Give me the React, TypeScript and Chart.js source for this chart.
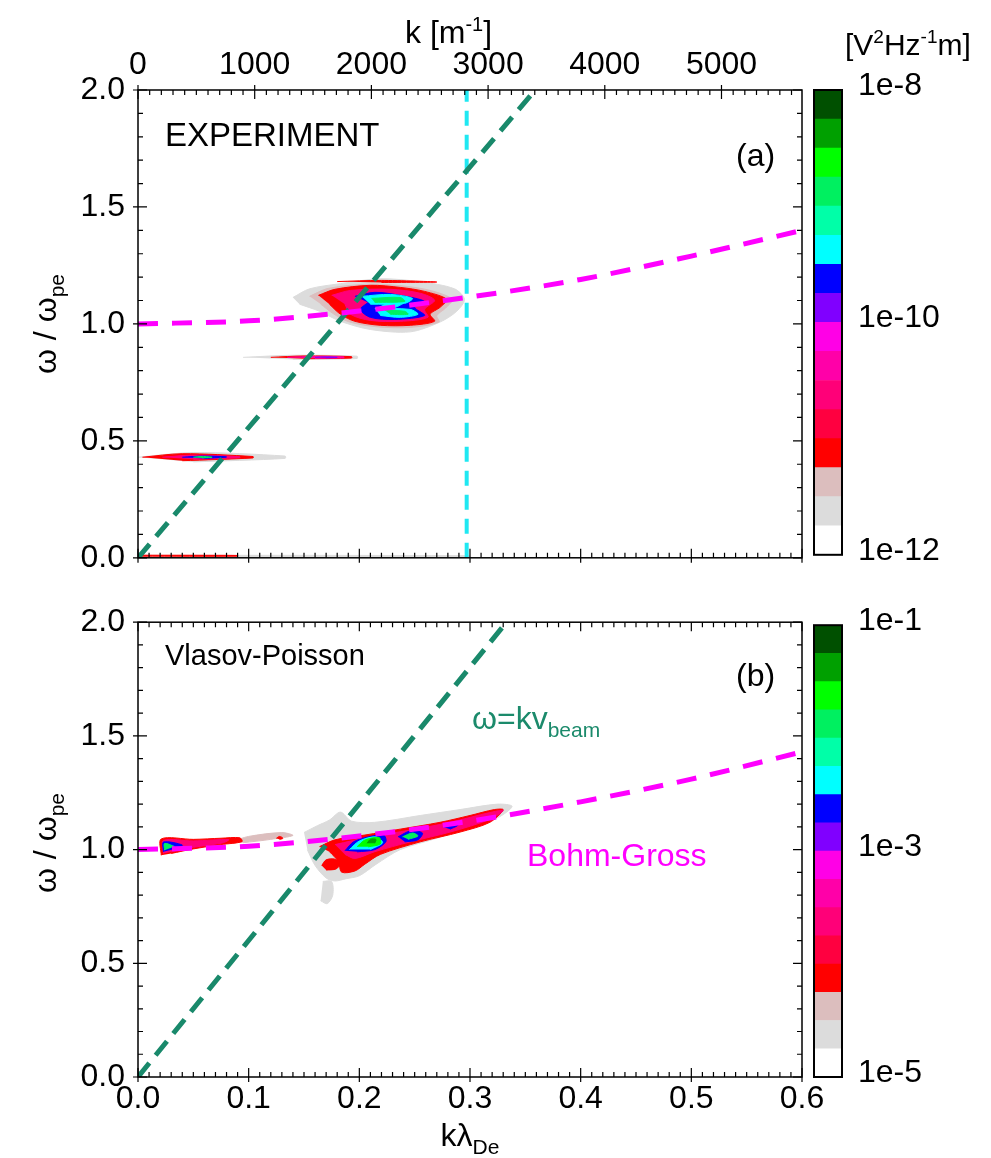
import React, { useEffect, useRef } from "react";
import { Chart, registerables } from "chart.js";

Chart.register(...registerables);

const FONT = "'Liberation Sans', Arial, Helvetica, sans-serif";

// ---------- axes ----------
const kLambdaTicks = [0, 0.1, 0.2, 0.3, 0.4, 0.5, 0.6];
const omegaTicks = [0, 0.5, 1.0, 1.5, 2.0];
const kTicks = [0, 1000, 2000, 3000, 4000, 5000];
const kLambdaMax = 0.6;
const omegaMax = 2.0;
const lambdaDe = 1.0545e-4; // m, links k [1/m] to k*lambda_De

// ---------- dashed guide lines ----------
const bohmGrossX = [0, 0.1, 0.2, 0.3, 0.4, 0.5, 0.6];
const bohmGrossExpY = [1.0, 1.013, 1.055, 1.115, 1.19, 1.29, 1.4];
const bohmGrossSimY = [1.0, 1.015, 1.06, 1.125, 1.21, 1.31, 1.43];
const beamExpX = [0, 0.359];
const beamExpY = [0, 2.0];
const beamSimX = [0, 0.333];
const beamSimY = [0, 2.0];
const cutoffExpX = [0.297, 0.297];
const cutoffExpY = [0, 2.0];

// ---------- colour levels (low -> high) ----------
const levelColors = [
  "#FFFFFF", "#DCDCDC", "#DCBEBE", "#FF0000", "#FF0040", "#FF0078", "#FF00A8", "#FF00E6",
  "#8000FF", "#0000FF", "#00FFFF", "#00FFA8", "#00F060", "#00FF00", "#00A000", "#005000",
];
const cbExpEdges = [-12, -11.75, -11.5, -11.25, -11, -10.75, -10.5, -10.25, -10, -9.75, -9.5, -9.25, -9, -8.75, -8.5, -8.25, -8];
const cbExpTicks = [-12, -10, -8];
const cbSimEdges = [-5, -4.75, -4.5, -4.25, -4, -3.75, -3.5, -3.25, -3, -2.75, -2.5, -2.25, -2, -1.75, -1.5, -1.25, -1];
const cbSimTicks = [-5, -3, -1];

type Pt = [number, number];

// ---------- (a) EXPERIMENT spectral contours [kλ, ω/ωpe] ----------
const expMainGrey: Pt[] = [[0.14, 1.113], [0.155, 1.15], [0.183, 1.172], [0.219, 1.193], [0.255, 1.18], [0.286, 1.15], [0.295, 1.105], [0.288, 1.054], [0.273, 1.008], [0.246, 0.966], [0.21, 0.976], [0.183, 1.011], [0.164, 1.054], [0.146, 1.084]];
const expMainRose: Pt[] = [[0.155, 1.118], [0.172, 1.152], [0.21, 1.17], [0.24, 1.162], [0.265, 1.142], [0.284, 1.105], [0.278, 1.068], [0.27, 1.035], [0.272, 1.008], [0.246, 0.985], [0.215, 0.988], [0.19, 1.01], [0.176, 1.045], [0.165, 1.085]];
const expMainRed: Pt[] = [[0.163, 1.122], [0.178, 1.148], [0.21, 1.165], [0.237, 1.156], [0.259, 1.139], [0.279, 1.105], [0.273, 1.071], [0.264, 1.041], [0.268, 1.011], [0.246, 0.994], [0.219, 0.994], [0.196, 1.011], [0.183, 1.041], [0.173, 1.084]];
const expTopStreak: Pt[] = [[0.18, 1.181], [0.22, 1.186], [0.27, 1.179], [0.22, 1.177]];
const expMainPink: Pt[] = [[0.175, 1.122], [0.192, 1.143], [0.228, 1.148], [0.255, 1.131], [0.268, 1.101], [0.259, 1.062], [0.262, 1.028], [0.237, 1.011], [0.21, 1.015], [0.192, 1.041], [0.187, 1.084]];
const expMainBlue: Pt[] = [[0.196, 1.118], [0.214, 1.135], [0.237, 1.122], [0.259, 1.096], [0.25, 1.071], [0.259, 1.036], [0.232, 1.019], [0.21, 1.028], [0.201, 1.062], [0.208, 1.092]];
const expCyanUpper: Pt[] = [[0.202, 1.118], [0.228, 1.126], [0.248, 1.109], [0.241, 1.088], [0.21, 1.084]];
const expCyanLower: Pt[] = [[0.214, 1.066], [0.246, 1.062], [0.253, 1.041], [0.237, 1.028], [0.219, 1.036]];
const expCyanLink: Pt[] = [[0.225, 1.09], [0.24, 1.09], [0.228, 1.064], [0.215, 1.066]];
const expGreenUpper: Pt[] = [[0.211, 1.109], [0.237, 1.113], [0.241, 1.096], [0.214, 1.092]];
const expGreenLower: Pt[] = [[0.223, 1.058], [0.241, 1.054], [0.244, 1.041], [0.228, 1.041]];
const exp085Grey: Pt[] = [[0.095, 0.857], [0.14, 0.866], [0.198, 0.862], [0.198, 0.852], [0.14, 0.848]];
const exp085Red: Pt[] = [[0.12, 0.857], [0.15, 0.863], [0.193, 0.86], [0.193, 0.854], [0.15, 0.851]];
const exp085Pink: Pt[] = [[0.135, 0.857], [0.16, 0.861], [0.186, 0.859], [0.186, 0.855], [0.16, 0.853]];
const exp085Violet: Pt[] = [[0.16, 0.857], [0.17, 0.859], [0.18, 0.857], [0.17, 0.855]];
const exp043Grey: Pt[] = [[0.0, 0.43], [0.05, 0.45], [0.133, 0.435], [0.133, 0.425], [0.05, 0.41]];
const exp043Red: Pt[] = [[0.004, 0.43], [0.04, 0.445], [0.104, 0.433], [0.104, 0.427], [0.04, 0.415]];
const exp043Pink: Pt[] = [[0.022, 0.43], [0.05, 0.439], [0.092, 0.432], [0.092, 0.428], [0.05, 0.421]];
const exp043Blue: Pt[] = [[0.04, 0.43], [0.06, 0.435], [0.08, 0.431], [0.06, 0.425]];
const exp043Green: Pt[] = [[0.05, 0.43], [0.058, 0.433], [0.067, 0.43], [0.058, 0.427]];
const exp000Grey: Pt[] = [[0.0, 0.011], [0.3, 0.009], [0.3, 0.005], [0.0, 0.005]];
const exp000Red: Pt[] = [[0.003, 0.011], [0.09, 0.01], [0.09, 0.007], [0.003, 0.007]];

// ---------- (b) Vlasov-Poisson spectral contours ----------
const simLeftRed: Pt[] = [[0.021, 0.975], [0.021, 1.047], [0.05, 1.045], [0.075, 1.05], [0.092, 1.052], [0.094, 1.035], [0.075, 1.022], [0.05, 1.003], [0.03, 0.983]];
const simLeftPink: Pt[] = [[0.023, 0.983], [0.023, 1.04], [0.05, 1.038], [0.082, 1.044], [0.077, 1.03], [0.05, 1.01], [0.03, 0.99]];
const simLeftBlue: Pt[] = [[0.023, 0.99], [0.023, 1.033], [0.04, 1.02], [0.035, 1.005]];
const simLeftGreen: Pt[] = [[0.024, 0.997], [0.024, 1.027], [0.033, 1.014]];
const simMidGrey: Pt[] = [[0.085, 1.035], [0.1, 1.058], [0.13, 1.075], [0.14, 1.062], [0.12, 1.045], [0.095, 1.03]];
const simMidRed: Pt[] = [[0.125, 1.05], [0.128, 1.058], [0.131, 1.05], [0.128, 1.044]];
const simMainGrey: Pt[] = [[0.15, 1.075], [0.162, 1.105], [0.173, 1.13], [0.183, 1.165], [0.193, 1.125], [0.214, 1.12], [0.255, 1.15], [0.291, 1.176], [0.325, 1.2], [0.338, 1.19], [0.325, 1.14], [0.3, 1.1], [0.27, 1.05], [0.237, 1.0], [0.215, 0.935], [0.2, 0.885], [0.188, 0.872], [0.178, 0.862], [0.17, 0.875], [0.16, 0.93], [0.153, 1.0]];
const simMainRed: Pt[] = [[0.164, 1.013], [0.178, 1.043], [0.205, 1.064], [0.237, 1.09], [0.273, 1.12], [0.3, 1.15], [0.322, 1.176], [0.33, 1.175], [0.318, 1.12], [0.291, 1.077], [0.255, 1.034], [0.219, 0.979], [0.205, 0.936], [0.196, 0.906], [0.184, 0.901], [0.181, 0.948], [0.173, 0.991]];
const simLowRed: Pt[] = [[0.166, 0.93], [0.17, 0.955], [0.178, 0.958], [0.183, 0.94], [0.179, 0.915], [0.17, 0.91]];
const simLowGrey: Pt[] = [[0.165, 0.775], [0.171, 0.762], [0.176, 0.8], [0.175, 0.86], [0.167, 0.86]];
const simMainPink: Pt[] = [[0.178, 1.022], [0.21, 1.056], [0.246, 1.086], [0.282, 1.12], [0.318, 1.163], [0.33, 1.172], [0.318, 1.133], [0.282, 1.077], [0.246, 1.034], [0.214, 0.991], [0.196, 0.961], [0.187, 0.979]];
const simBlue1: Pt[] = [[0.187, 0.995], [0.195, 1.035], [0.21, 1.058], [0.222, 1.064], [0.224, 1.035], [0.214, 1.0], [0.198, 0.99]];
const simCyan1: Pt[] = [[0.191, 1.0], [0.2, 1.038], [0.215, 1.056], [0.221, 1.03], [0.21, 1.0]];
const simGreen1: Pt[] = [[0.198, 1.013], [0.205, 1.042], [0.218, 1.053], [0.219, 1.025], [0.208, 1.012]];
const simDark1: Pt[] = [[0.207, 1.028], [0.21, 1.045], [0.215, 1.045], [0.214, 1.028]];
const simBlue2: Pt[] = [[0.235, 1.056], [0.246, 1.082], [0.257, 1.073], [0.253, 1.043], [0.241, 1.034]];
const simGreen2: Pt[] = [[0.239, 1.056], [0.248, 1.073], [0.253, 1.06], [0.244, 1.045]];
const simBlue3: Pt[] = [[0.276, 1.099], [0.284, 1.116], [0.289, 1.107], [0.282, 1.09]];

interface Contour { level: number; pts: Pt[] }

const expContours: Contour[] = [
  { level: 1, pts: expMainGrey }, { level: 2, pts: expMainRose }, { level: 3, pts: expMainRed },
  { level: 3, pts: expTopStreak }, { level: 5, pts: expMainPink }, { level: 9, pts: expMainBlue },
  { level: 10, pts: expCyanUpper }, { level: 10, pts: expCyanLower }, { level: 10, pts: expCyanLink },
  { level: 12, pts: expGreenUpper }, { level: 12, pts: expGreenLower }, { level: 1, pts: exp085Grey },
  { level: 3, pts: exp085Red }, { level: 6, pts: exp085Pink }, { level: 8, pts: exp085Violet },
  { level: 1, pts: exp043Grey }, { level: 3, pts: exp043Red }, { level: 5, pts: exp043Pink },
  { level: 9, pts: exp043Blue }, { level: 12, pts: exp043Green }, { level: 1, pts: exp000Grey },
  { level: 3, pts: exp000Red },
];

const simContours: Contour[] = [
  { level: 3, pts: simLeftRed }, { level: 5, pts: simLeftPink }, { level: 9, pts: simLeftBlue },
  { level: 12, pts: simLeftGreen }, { level: 2, pts: simMidGrey }, { level: 3, pts: simMidRed },
  { level: 1, pts: simMainGrey }, { level: 3, pts: simMainRed }, { level: 3, pts: simLowRed },
  { level: 1, pts: simLowGrey }, { level: 5, pts: simMainPink }, { level: 9, pts: simBlue1 },
  { level: 10, pts: simCyan1 }, { level: 13, pts: simGreen1 }, { level: 14, pts: simDark1 },
  { level: 9, pts: simBlue2 }, { level: 12, pts: simGreen2 }, { level: 9, pts: simBlue3 },
];

const toXY = (xs: number[], ys: number[]) => xs.map((x, i) => ({ x, y: ys[i] }));

function framePlugin(topKind: "k" | "kl") {
  return {
    id: "frameTicks",
    afterDatasetsDraw(chart: any) {
      const { ctx, chartArea: a, scales } = chart;
      const sx = scales.x, sy = scales.y, sk = scales.x2;
      ctx.save();
      ctx.strokeStyle = "#000";
      ctx.lineWidth = 1.2;
      ctx.beginPath();
      const MAJ = 9, MIN = 5, OUT = 5;
      for (let i = 0; i <= 60; i++) {
        const px = sx.getPixelForValue(i / 100);
        const major = i % 10 === 0;
        const len = major ? MAJ : MIN;
        ctx.moveTo(px, a.bottom + (major ? OUT : 0));
        ctx.lineTo(px, a.bottom - len);
        if (topKind === "kl") {
          ctx.moveTo(px, a.top);
          ctx.lineTo(px, a.top + len);
        }
      }
      if (topKind === "k" && sk) {
        for (let i = 0; i * 100 <= sk.max; i++) {
          const px = sk.getPixelForValue(i * 100);
          const major = i % 10 === 0;
          const len = major ? MAJ : MIN;
          ctx.moveTo(px, a.top - (major ? OUT : 0));
          ctx.lineTo(px, a.top + len);
        }
      }
      for (let i = 0; i <= 20; i++) {
        const py = sy.getPixelForValue(i / 10);
        const major = i % 5 === 0;
        const len = major ? MAJ : MIN;
        ctx.moveTo(a.left - (major ? OUT : 0), py);
        ctx.lineTo(a.left + len, py);
        ctx.moveTo(a.right, py);
        ctx.lineTo(a.right - len, py);
      }
      ctx.stroke();
      ctx.lineWidth = 1.5;
      ctx.strokeRect(a.left, a.top, a.right - a.left, a.bottom - a.top);
      ctx.restore();
    },
  };
}

const cbFramePlugin = {
  id: "cbFrame",
  afterDatasetsDraw(chart: any) {
    const { ctx, chartArea: a } = chart;
    ctx.save();
    ctx.strokeStyle = "#000";
    ctx.lineWidth = 2;
    ctx.strokeRect(a.left, a.top, a.right - a.left, a.bottom - a.top);
    ctx.restore();
  },
};

interface PanelSpec {
  contours: Contour[];
  bohm: number[];
  beamX: number[];
  beamY: number[];
  cutoff?: boolean;
  topAxis: boolean;
  padTop: number;
  xAxisH: number;
  showXLabels: boolean;
}

function buildPanel(canvas: HTMLCanvasElement, p: PanelSpec) {
  const datasets: any[] = [];
  datasets.push({
    data: toXY(bohmGrossX, p.bohm), showLine: true, borderColor: "#FF00FF", borderWidth: 5,
    borderDash: [20, 14], pointRadius: 0, cubicInterpolationMode: "monotone", fill: false, order: 0,
  });
  datasets.push({
    data: toXY(p.beamX, p.beamY), showLine: true, borderColor: "#19896B", borderWidth: 5,
    borderDash: [18, 10], pointRadius: 0, fill: false, order: 0,
  });
  if (p.cutoff) {
    datasets.push({
      data: toXY(cutoffExpX, cutoffExpY), showLine: true, borderColor: "#1FE8F2", borderWidth: 4,
      borderDash: [15, 9], pointRadius: 0, fill: false, order: 0,
    });
  }
  p.contours.forEach((c) => {
    datasets.push({
      data: c.pts.map(([x, y]) => ({ x, y })), showLine: true, fill: "shape",
      backgroundColor: levelColors[c.level], borderColor: levelColors[c.level], borderWidth: 1,
      pointRadius: 0, tension: 0.3, order: 100 - c.level,
    });
  });

  const scales: any = {
    x: {
      type: "linear", position: "bottom", min: 0, max: kLambdaMax,
      afterBuildTicks: (s: any) => { s.ticks = kLambdaTicks.map((v) => ({ value: v })); },
      afterFit: (s: any) => { s.height = p.xAxisH; },
      grid: { display: false, drawTicks: false }, border: { display: false },
      ticks: { display: p.showXLabels, padding: 3, color: "#000", font: { family: FONT, size: 32 }, callback: (v: any) => Number(v).toFixed(1) },
    },
    y: {
      type: "linear", position: "left", min: 0, max: omegaMax,
      afterBuildTicks: (s: any) => { s.ticks = omegaTicks.map((v) => ({ value: v })); },
      afterFit: (s: any) => { s.width = 138; },
      grid: { display: false, drawTicks: false }, border: { display: false },
      ticks: { padding: 13, color: "#000", font: { family: FONT, size: 32 }, callback: (v: any) => Number(v).toFixed(1) },
    },
  };
  if (p.topAxis) {
    scales.x2 = {
      type: "linear", position: "top", min: 0, max: kLambdaMax / lambdaDe,
      afterBuildTicks: (s: any) => { s.ticks = kTicks.map((v) => ({ value: v })); },
      afterFit: (s: any) => { s.height = 90; },
      grid: { display: false, drawTicks: false }, border: { display: false },
      ticks: { padding: 6, color: "#000", font: { family: FONT, size: 32 }, callback: (v: any) => String(v) },
    };
  }

  return new Chart(canvas, {
    type: "scatter",
    data: { datasets },
    options: {
      animation: false, responsive: false, maintainAspectRatio: false, events: [],
      layout: { padding: { left: 0, right: 189, top: p.padTop, bottom: 0 } },
      plugins: { legend: { display: false }, tooltip: { enabled: false } },
      scales,
    },
    plugins: [framePlugin(p.topAxis ? "k" : "kl")],
  } as any);
}

function buildColorbar(canvas: HTMLCanvasElement, edges: number[], ticks: number[], padTop: number, padBottom: number) {
  const datasets = levelColors.map((c, i) => ({
    data: [[edges[i], edges[i + 1]]], backgroundColor: c, borderWidth: 0,
    grouped: false, barPercentage: 1, categoryPercentage: 1,
  }));
  return new Chart(canvas, {
    type: "bar",
    data: { labels: ["cb"], datasets },
    options: {
      animation: false, responsive: false, maintainAspectRatio: false, events: [],
      layout: { padding: { left: 14, right: 0, top: padTop, bottom: padBottom } },
      plugins: { legend: { display: false }, tooltip: { enabled: false } },
      scales: {
        x: { display: false },
        y: {
          type: "linear", position: "right", min: edges[0], max: edges[edges.length - 1],
          afterBuildTicks: (s: any) => { s.ticks = ticks.map((v) => ({ value: v })); },
          afterFit: (s: any) => { s.width = 149; },
          grid: { display: false, drawTicks: false }, border: { display: false },
          ticks: { padding: 16, labelOffset: -4, color: "#000", font: { family: FONT, size: 32 }, callback: (v: any) => `1e${v}` },
        },
      },
    },
    plugins: [cbFramePlugin],
  } as any);
}

const abs = (left: number, top: number, extra: any = {}) => ({ position: "absolute" as const, left, top, ...extra });

function Txt({ left, cy, size = 32, color = "#000", children }: any) {
  return (
    <div style={abs(left, cy - size * 0.6, { fontSize: size, lineHeight: `${size * 1.2}px`, color, whiteSpace: "nowrap", fontFamily: FONT })}>
      {children}
    </div>
  );
}

const Sub = ({ children, size = 21 }: any) => (
  <span style={{ fontSize: size, position: "relative", top: 8 }}>{children}</span>
);
const Sup = ({ children, size = 20 }: any) => (
  <span style={{ fontSize: size, position: "relative", top: -12 }}>{children}</span>
);

function YTitle({ cy }: { cy: number }) {
  return (
    <div style={abs(45 - 150, cy - 20, { width: 300, height: 40, lineHeight: "40px", textAlign: "center", transform: "rotate(-90deg)", fontSize: 32, fontFamily: FONT, whiteSpace: "nowrap" })}>
      ω / ω<Sub>pe</Sub>
    </div>
  );
}

export default function App() {
  const topRef = useRef<HTMLCanvasElement>(null);
  const botRef = useRef<HTMLCanvasElement>(null);
  const cbTopRef = useRef<HTMLCanvasElement>(null);
  const cbBotRef = useRef<HTMLCanvasElement>(null);

  useEffect(() => {
    const charts: Chart[] = [];
    charts.push(buildPanel(topRef.current!, {
      contours: expContours, bohm: bohmGrossExpY, beamX: beamExpX, beamY: beamExpY,
      cutoff: true, topAxis: true, padTop: 0, xAxisH: 32, showXLabels: false,
    }));
    charts.push(buildPanel(botRef.current!, {
      contours: simContours, bohm: bohmGrossSimY, beamX: beamSimX, beamY: beamSimY,
      cutoff: false, topAxis: false, padTop: 20, xAxisH: 81, showXLabels: true,
    }));
    charts.push(buildColorbar(cbTopRef.current!, cbExpEdges, cbExpTicks, 90, 32));
    charts.push(buildColorbar(cbBotRef.current!, cbSimEdges, cbSimTicks, 20, 81));
    return () => charts.forEach((c) => c.destroy());
  }, []);

  return (
    <div style={abs(0, 0, { width: 991, height: 1158, background: "#fff", overflow: "hidden", fontFamily: FONT })}>
      <canvas ref={topRef} width={991} height={590} style={abs(0, 0, { width: 991, height: 590 })} />
      <canvas ref={botRef} width={991} height={568} style={abs(0, 590, { width: 991, height: 568 })} />
      <canvas ref={cbTopRef} width={191} height={590} style={abs(800, 0, { width: 191, height: 590 })} />
      <canvas ref={cbBotRef} width={191} height={568} style={abs(800, 590, { width: 191, height: 568 })} />

      <Txt left={405} cy={32}>k [m<Sup>-1</Sup>]</Txt>
      <Txt left={845} cy={45} size={30}>[V<Sup size={19}>2</Sup>Hz<Sup size={19}>-1</Sup>m]</Txt>
      <Txt left={165} cy={135} size={33}>EXPERIMENT</Txt>
      <Txt left={736} cy={155}>(a)</Txt>
      <Txt left={165} cy={655} size={29}>Vlasov-Poisson</Txt>
      <Txt left={736} cy={675}>(b)</Txt>
      <Txt left={472} cy={718} color="#1B8A6B">ω=kv<Sub>beam</Sub></Txt>
      <Txt left={527} cy={855} color="#FF00FF">Bohm-Gross</Txt>
      <YTitle cy={324} />
      <YTitle cy={843} />
      <div style={abs(370, 1115, { width: 200, textAlign: "center", fontSize: 32, lineHeight: "40px", fontFamily: FONT })}>
        kλ<Sub>De</Sub>
      </div>
    </div>
  );
}
